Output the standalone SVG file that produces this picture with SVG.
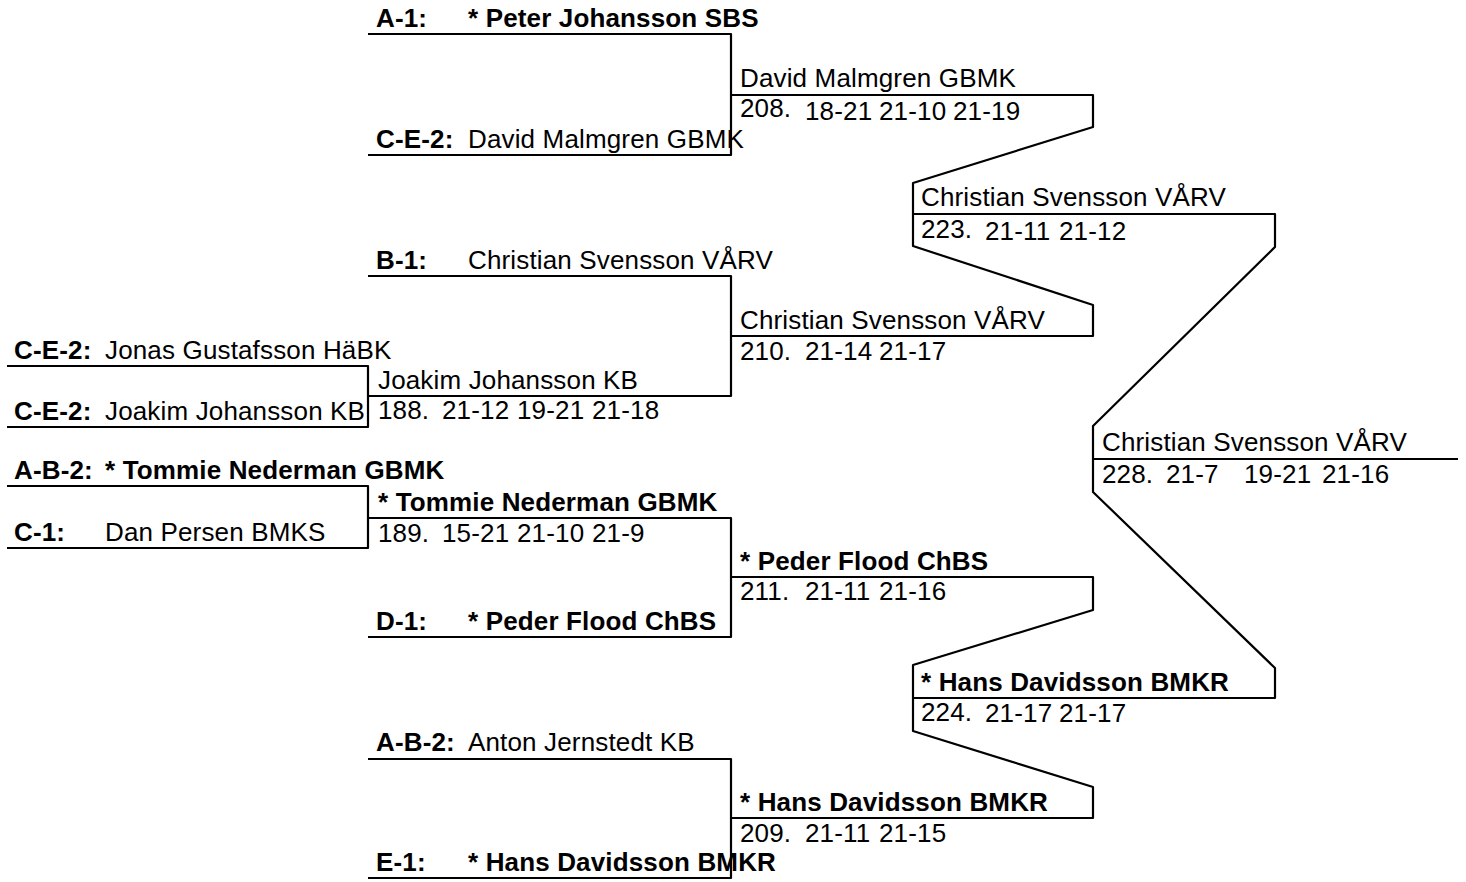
<svg xmlns="http://www.w3.org/2000/svg" width="1466" height="882" viewBox="0 0 1466 882">
<style>
text{font-family:"Liberation Sans",Arial,sans-serif;font-size:26px;letter-spacing:0.15px;fill:#000}
.b{font-weight:bold}
.ln{stroke:#000;stroke-width:2.2;fill:none;stroke-linejoin:round}
</style>
<rect width="1466" height="882" fill="#fff"/>
<g id="connectors" class="ln">
<path d="M368 34H731V155H368"/>
<path d="M368 276H731V396H368"/>
<path d="M7 366H368V427H7"/>
<path d="M7 486H368V548H7"/>
<path d="M368 518H731V637H368"/>
<path d="M368 759H731V878H368"/>
<path d="M731 95H1093V127L913 183V246L1093 305V336H731"/>
<path d="M731 577H1093V610L913 665V731L1093 787V818H731"/>
<path d="M913 214H1275V247L1093 426V492L1275 668V698H913"/>
<path d="M1093 459H1458"/>
</g>
<g id="e-a1"><text x="376" y="27" class="b">A-1:</text><text x="468" y="27" class="b">* Peter Johansson SBS</text></g>
<g id="e-ce2-david"><text x="376" y="148" class="b">C-E-2:</text><text x="468" y="148">David Malmgren GBMK</text></g>
<g id="e-b1"><text x="376" y="269" class="b">B-1:</text><text x="468" y="269">Christian Svensson VÅRV</text></g>
<g id="e-ce2-jonas"><text x="14" y="359" class="b">C-E-2:</text><text x="105" y="359">Jonas Gustafsson HäBK</text></g>
<g id="e-ce2-joakim"><text x="14" y="420" class="b">C-E-2:</text><text x="105" y="420">Joakim Johansson KB</text></g>
<g id="e-ab2-tommie"><text x="14" y="479" class="b">A-B-2:</text><text x="105" y="479" class="b">* Tommie Nederman GBMK</text></g>
<g id="e-c1"><text x="14" y="541" class="b">C-1:</text><text x="105" y="541">Dan Persen BMKS</text></g>
<g id="e-d1"><text x="376" y="630" class="b">D-1:</text><text x="468" y="630" class="b">* Peder Flood ChBS</text></g>
<g id="e-ab2-anton"><text x="376" y="751" class="b">A-B-2:</text><text x="468" y="751">Anton Jernstedt KB</text></g>
<g id="e-e1"><text x="376" y="871" class="b">E-1:</text><text x="468" y="871" class="b">* Hans Davidsson BMKR</text></g>
<g id="m208"><text x="740" y="87">David Malmgren GBMK</text><text x="740" y="117">208.</text><text x="805" y="120">18-21</text><text x="879" y="120">21-10</text><text x="953" y="120">21-19</text></g>
<g id="m210"><text x="740" y="329">Christian Svensson VÅRV</text><text x="740" y="360">210.</text><text x="805" y="360">21-14</text><text x="879" y="360">21-17</text></g>
<g id="m188"><text x="378" y="389">Joakim Johansson KB</text><text x="378" y="419">188.</text><text x="442" y="419">21-12</text><text x="517" y="419">19-21</text><text x="592" y="419">21-18</text></g>
<g id="m189"><text x="378" y="511" class="b">* Tommie Nederman GBMK</text><text x="378" y="542">189.</text><text x="442" y="542">15-21</text><text x="517" y="542">21-10</text><text x="592" y="542">21-9</text></g>
<g id="m211"><text x="740" y="570" class="b">* Peder Flood ChBS</text><text x="740" y="600">211.</text><text x="805" y="600">21-11</text><text x="879" y="600">21-16</text></g>
<g id="m209"><text x="740" y="811" class="b">* Hans Davidsson BMKR</text><text x="740" y="842">209.</text><text x="805" y="842">21-11</text><text x="879" y="842">21-15</text></g>
<g id="m223"><text x="921" y="206">Christian Svensson VÅRV</text><text x="921" y="238">223.</text><text x="985" y="240">21-11</text><text x="1059" y="240">21-12</text></g>
<g id="m224"><text x="921" y="691" class="b">* Hans Davidsson BMKR</text><text x="921" y="721">224.</text><text x="985" y="722">21-17</text><text x="1059" y="722">21-17</text></g>
<g id="m228"><text x="1102" y="451">Christian Svensson VÅRV</text><text x="1102" y="483">228.</text><text x="1166" y="483">21-7</text><text x="1244" y="483">19-21</text><text x="1322" y="483">21-16</text></g>
</svg>
